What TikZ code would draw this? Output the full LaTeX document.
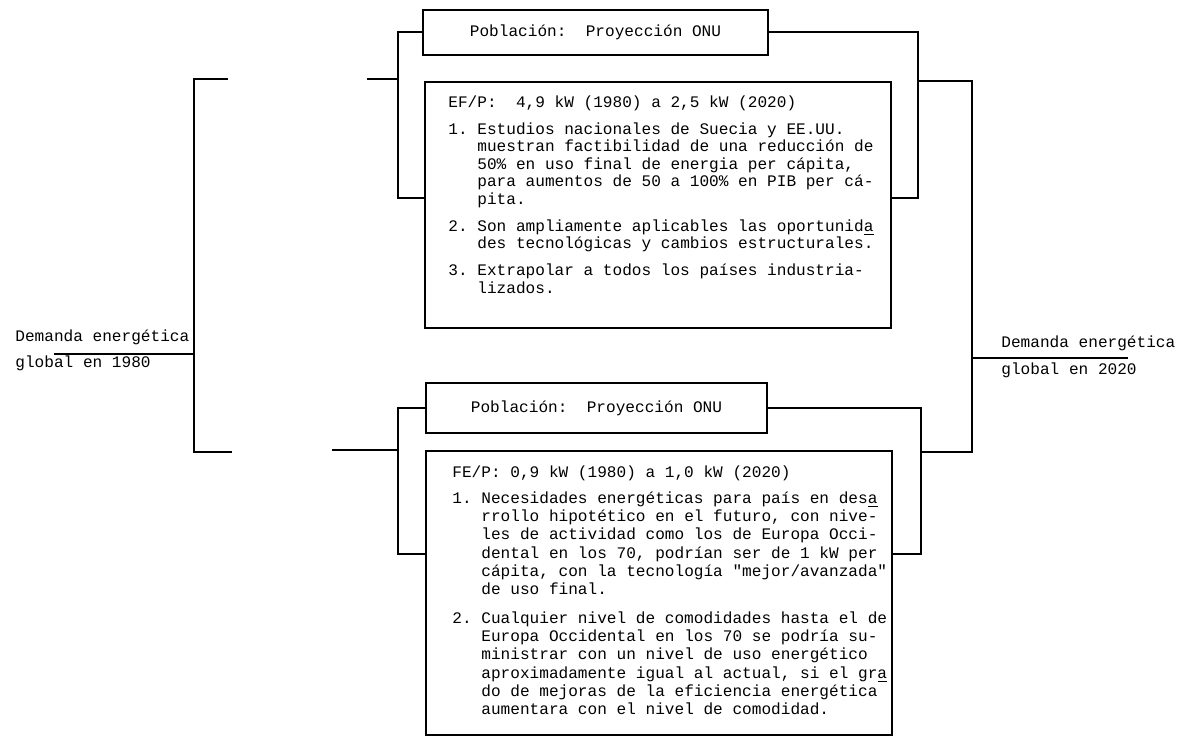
\documentclass[tikz,border=0pt]{standalone}
\usepackage{fontspec}
\newfontfamily\typer{Liberation Mono}
\newcommand{\ind}{\hphantom{1.~}}

\tikzset{
  box/.style={draw, line width=1.4pt, inner sep=0pt, outer sep=0pt, anchor=north west},
  pob/.style={box, font={\typer\frenchspacing\fontsize{8.05}{8.75}\selectfont}},
  link/.style={line width=1pt},
  body/.style={align=left, inner sep=0pt, anchor=north west},
  lbl/.style={font={\typer\frenchspacing\fontsize{8.05}{8.75}\selectfont}, inner sep=0pt, anchor=base west}
}

\begin{document}
\begin{tikzpicture}[x=0.5pt,y=-0.5pt]
\useasboundingbox (0,0) rectangle (1177,737);

% upper branch: industrialized countries
\node[pob, minimum width=172.5pt, minimum height=22.5pt] (pobA) at (423,10) {Población:~~Proyección ONU};
\node[box, minimum width=233pt, minimum height=123pt] (efbox) at (425,82) {};
\node[body, font={\typer\frenchspacing\fontsize{8.05}{8.75}\selectfont}] (eftxt) at (448,95) {EF/P:~~4,9 kW (1980) a 2,5 kW (2020)\\[4.8pt]
1. Estudios nacionales de Suecia y EE.UU.\\
\ind muestran factibilidad de una reducción de\\
\ind 50\% en uso final de energia per cápita,\\
\ind para aumentos de 50 a 100\% en PIB per cá-\\
\ind pita.\\[4.8pt]
2. Son ampliamente aplicables las oportunid\underline{a}\\
\ind des tecnológicas y cambios estructurales.\\[4.8pt]
3. Extrapolar a todos los países industria-\\
\ind lizados.};

% lower branch: developing countries
\node[pob, minimum width=170.5pt, minimum height=25pt] (pobB) at (426,383) {Población:~~Proyección ONU};
\node[box, minimum width=233pt, minimum height=142pt] (febox) at (426,451) {};
\node[body, font={\typer\frenchspacing\fontsize{8.05}{9.15}\selectfont}] (fetxt) at (452,465) {FE/P: 0,9 kW (1980) a 1,0 kW (2020)\\[4pt]
1. Necesidades energéticas para país en des\underline{a}\\
\ind rrollo hipotético en el futuro, con nive-\\
\ind les de actividad como los de Europa Occi-\\
\ind dental en los 70, podrían ser de 1 kW per\\
\ind cápita, con la tecnología "mejor/avanzada"\\
\ind de uso final.\\[5pt]
2. Cualquier nivel de comodidades hasta el de\\
\ind Europa Occidental en los 70 se podría su-\\
\ind ministrar con un nivel de uso energético\\
\ind aproximadamente igual al actual, si el gr\underline{a}\\
\ind do de mejoras de la eficiencia energética\\
\ind aumentara con el nivel de comodidad.};

% side labels
\node[lbl] (dem80) at (15,342) {Demanda energética};
\node[lbl] (glob80) at (15,368) {global en 1980};
\node[lbl] (dem20) at (1001,348) {Demanda energética};
\node[lbl] (glob20) at (1001,375) {global en 2020};

% free ends
\coordinate (inA) at (54,354);
\coordinate (mainT) at (228,79);
\coordinate (mainB) at (232,452);
\coordinate (stubA) at (367,79);
\coordinate (stubB) at (332,450);
\coordinate (outR) at (1128,358);

% left brackets
\draw[link] (inA) -- (194,354);
\draw[link] (mainT) -- (194,79) -- (194,452) -- (mainB);
\draw[link] (stubA) -- (398,79);
\draw[link] (pobA.west) -| (398,198) -- ([yshift=3.5pt]efbox.west);
\draw[link] (stubB) -- (398,450);
\draw[link] (pobB.west) -| (398,554) -- ([yshift=19.5pt]febox.west);

% right brackets
\draw[link] (pobA.east) -| (918,198) -- ([yshift=3.5pt]efbox.east);
\draw[link] (pobB.east) -| (921,554) -- ([yshift=19.5pt]febox.east);
\draw[link] (918,81) -- (972,81) -- (972,452) -- (921,452);
\draw[link] (972,358) -- (outR);
\end{tikzpicture}
\end{document}
